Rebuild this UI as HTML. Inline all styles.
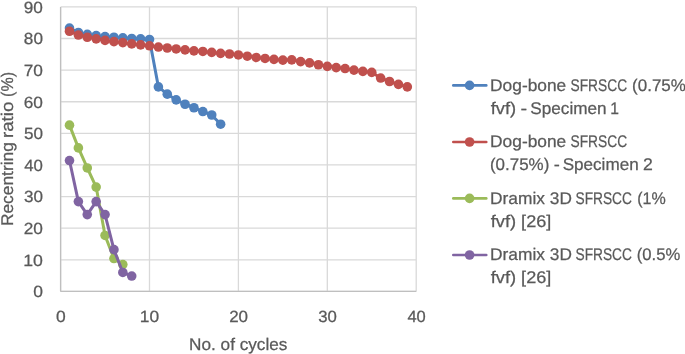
<!DOCTYPE html>
<html><head><meta charset="utf-8"><title>Chart</title>
<style>
html,body{margin:0;padding:0;background:#fff;}
body{width:685px;height:354px;overflow:hidden;}
svg{display:block;will-change:transform;}
text{font-family:"Liberation Sans",sans-serif;fill:#595959;text-rendering:geometricPrecision;stroke:#595959;stroke-width:0.25px;}
</style></head><body>
<svg width="685" height="354" viewBox="0 0 685 354">
<rect width="685" height="354" fill="#fff"/>
<g stroke="#D9D9D9" stroke-width="1.3" fill="none">
<line x1="60.60" y1="291.40" x2="416.20" y2="291.40"/>
<line x1="60.60" y1="259.79" x2="416.20" y2="259.79"/>
<line x1="60.60" y1="228.18" x2="416.20" y2="228.18"/>
<line x1="60.60" y1="196.57" x2="416.20" y2="196.57"/>
<line x1="60.60" y1="164.96" x2="416.20" y2="164.96"/>
<line x1="60.60" y1="133.34" x2="416.20" y2="133.34"/>
<line x1="60.60" y1="101.73" x2="416.20" y2="101.73"/>
<line x1="60.60" y1="70.12" x2="416.20" y2="70.12"/>
<line x1="60.60" y1="38.51" x2="416.20" y2="38.51"/>
<line x1="60.60" y1="6.90" x2="416.20" y2="6.90"/>
<line x1="60.60" y1="6.90" x2="60.60" y2="291.40"/>
<line x1="149.50" y1="6.90" x2="149.50" y2="291.40"/>
<line x1="238.40" y1="6.90" x2="238.40" y2="291.40"/>
<line x1="327.30" y1="6.90" x2="327.30" y2="291.40"/>
<line x1="416.20" y1="6.90" x2="416.20" y2="291.40"/>
</g>
<g stroke="#BFBFBF" stroke-width="1.3" fill="none">
<line x1="60.60" y1="6.90" x2="60.60" y2="291.40"/>
<line x1="60.60" y1="291.40" x2="416.20" y2="291.40"/>
</g>
<polyline points="69.49,28.08 78.38,32.50 87.27,34.40 96.16,35.67 105.05,36.61 113.94,37.25 122.83,37.88 131.72,38.51 140.61,38.83 149.50,39.46 158.39,86.88 167.28,94.15 176.17,99.84 185.06,104.26 193.95,107.74 202.84,111.53 211.73,115.01 220.62,124.18" fill="none" stroke="#4F81BD" stroke-width="3" stroke-linejoin="round" stroke-linecap="round"/>
<g fill="#4F81BD"><circle cx="69.49" cy="28.08" r="4.8"/><circle cx="78.38" cy="32.50" r="4.8"/><circle cx="87.27" cy="34.40" r="4.8"/><circle cx="96.16" cy="35.67" r="4.8"/><circle cx="105.05" cy="36.61" r="4.8"/><circle cx="113.94" cy="37.25" r="4.8"/><circle cx="122.83" cy="37.88" r="4.8"/><circle cx="131.72" cy="38.51" r="4.8"/><circle cx="140.61" cy="38.83" r="4.8"/><circle cx="149.50" cy="39.46" r="4.8"/><circle cx="158.39" cy="86.88" r="4.8"/><circle cx="167.28" cy="94.15" r="4.8"/><circle cx="176.17" cy="99.84" r="4.8"/><circle cx="185.06" cy="104.26" r="4.8"/><circle cx="193.95" cy="107.74" r="4.8"/><circle cx="202.84" cy="111.53" r="4.8"/><circle cx="211.73" cy="115.01" r="4.8"/><circle cx="220.62" cy="124.18" r="4.8"/></g>
<polyline points="69.49,31.24 78.38,35.03 87.27,37.25 96.16,38.83 105.05,40.41 113.94,41.67 122.83,42.62 131.72,43.88 140.61,44.83 149.50,45.78 158.39,47.05 167.28,47.99 176.17,48.94 185.06,49.89 193.95,50.84 202.84,51.47 211.73,52.42 220.62,53.37 229.51,54.00 238.40,54.95 247.29,56.21 256.18,57.48 265.07,58.43 273.96,59.37 282.85,60.16 291.74,59.85 300.63,61.59 309.52,62.85 318.41,64.75 327.30,66.33 336.19,67.59 345.08,68.54 353.97,70.12 362.86,71.39 371.75,72.33 380.64,78.02 389.53,81.50 398.42,84.35 407.31,86.88" fill="none" stroke="#C0504D" stroke-width="3" stroke-linejoin="round" stroke-linecap="round"/>
<g fill="#C0504D"><circle cx="69.49" cy="31.24" r="4.8"/><circle cx="78.38" cy="35.03" r="4.8"/><circle cx="87.27" cy="37.25" r="4.8"/><circle cx="96.16" cy="38.83" r="4.8"/><circle cx="105.05" cy="40.41" r="4.8"/><circle cx="113.94" cy="41.67" r="4.8"/><circle cx="122.83" cy="42.62" r="4.8"/><circle cx="131.72" cy="43.88" r="4.8"/><circle cx="140.61" cy="44.83" r="4.8"/><circle cx="149.50" cy="45.78" r="4.8"/><circle cx="158.39" cy="47.05" r="4.8"/><circle cx="167.28" cy="47.99" r="4.8"/><circle cx="176.17" cy="48.94" r="4.8"/><circle cx="185.06" cy="49.89" r="4.8"/><circle cx="193.95" cy="50.84" r="4.8"/><circle cx="202.84" cy="51.47" r="4.8"/><circle cx="211.73" cy="52.42" r="4.8"/><circle cx="220.62" cy="53.37" r="4.8"/><circle cx="229.51" cy="54.00" r="4.8"/><circle cx="238.40" cy="54.95" r="4.8"/><circle cx="247.29" cy="56.21" r="4.8"/><circle cx="256.18" cy="57.48" r="4.8"/><circle cx="265.07" cy="58.43" r="4.8"/><circle cx="273.96" cy="59.37" r="4.8"/><circle cx="282.85" cy="60.16" r="4.8"/><circle cx="291.74" cy="59.85" r="4.8"/><circle cx="300.63" cy="61.59" r="4.8"/><circle cx="309.52" cy="62.85" r="4.8"/><circle cx="318.41" cy="64.75" r="4.8"/><circle cx="327.30" cy="66.33" r="4.8"/><circle cx="336.19" cy="67.59" r="4.8"/><circle cx="345.08" cy="68.54" r="4.8"/><circle cx="353.97" cy="70.12" r="4.8"/><circle cx="362.86" cy="71.39" r="4.8"/><circle cx="371.75" cy="72.33" r="4.8"/><circle cx="380.64" cy="78.02" r="4.8"/><circle cx="389.53" cy="81.50" r="4.8"/><circle cx="398.42" cy="84.35" r="4.8"/><circle cx="407.31" cy="86.88" r="4.8"/></g>
<polyline points="69.49,125.13 78.38,147.89 87.27,167.96 96.16,187.08 105.05,235.45 113.94,258.52 122.83,264.53" fill="none" stroke="#9BBB59" stroke-width="3" stroke-linejoin="round" stroke-linecap="round"/>
<g fill="#9BBB59"><circle cx="69.49" cy="125.13" r="4.8"/><circle cx="78.38" cy="147.89" r="4.8"/><circle cx="87.27" cy="167.96" r="4.8"/><circle cx="96.16" cy="187.08" r="4.8"/><circle cx="105.05" cy="235.45" r="4.8"/><circle cx="113.94" cy="258.52" r="4.8"/><circle cx="122.83" cy="264.53" r="4.8"/></g>
<polyline points="69.49,160.53 78.38,201.62 87.27,214.58 96.16,201.62 105.05,214.58 113.94,249.67 122.83,272.43 131.72,276.07" fill="none" stroke="#8064A2" stroke-width="3" stroke-linejoin="round" stroke-linecap="round"/>
<g fill="#8064A2"><circle cx="69.49" cy="160.53" r="4.8"/><circle cx="78.38" cy="201.62" r="4.8"/><circle cx="87.27" cy="214.58" r="4.8"/><circle cx="96.16" cy="201.62" r="4.8"/><circle cx="105.05" cy="214.58" r="4.8"/><circle cx="113.94" cy="249.67" r="4.8"/><circle cx="122.83" cy="272.43" r="4.8"/><circle cx="131.72" cy="276.07" r="4.8"/></g>
<text x="33.24" y="297.30" font-size="16.2" textLength="9.71" lengthAdjust="spacingAndGlyphs">0</text>
<text x="23.28" y="265.69" font-size="16.2" textLength="19.69" lengthAdjust="spacingAndGlyphs">10</text>
<text x="23.76" y="234.08" font-size="16.2" textLength="19.19" lengthAdjust="spacingAndGlyphs">20</text>
<text x="23.98" y="202.47" font-size="16.2" textLength="18.97" lengthAdjust="spacingAndGlyphs">30</text>
<text x="24.24" y="170.86" font-size="16.2" textLength="18.69" lengthAdjust="spacingAndGlyphs">40</text>
<text x="23.94" y="139.24" font-size="16.2" textLength="19.00" lengthAdjust="spacingAndGlyphs">50</text>
<text x="23.75" y="107.63" font-size="16.2" textLength="19.20" lengthAdjust="spacingAndGlyphs">60</text>
<text x="23.74" y="76.02" font-size="16.2" textLength="19.21" lengthAdjust="spacingAndGlyphs">70</text>
<text x="23.88" y="44.41" font-size="16.2" textLength="19.06" lengthAdjust="spacingAndGlyphs">80</text>
<text x="23.82" y="12.80" font-size="16.2" textLength="19.13" lengthAdjust="spacingAndGlyphs">90</text>
<text x="56.04" y="321.80" font-size="16.2" textLength="9.71" lengthAdjust="spacingAndGlyphs">0</text>
<text x="139.80" y="321.80" font-size="16.2" textLength="19.36" lengthAdjust="spacingAndGlyphs">10</text>
<text x="229.17" y="321.80" font-size="16.2" textLength="18.87" lengthAdjust="spacingAndGlyphs">20</text>
<text x="318.29" y="321.80" font-size="16.2" textLength="18.64" lengthAdjust="spacingAndGlyphs">30</text>
<text x="407.45" y="321.80" font-size="16.2" textLength="18.37" lengthAdjust="spacingAndGlyphs">40</text>
<text x="189.12" y="350.10" font-size="16.9" textLength="98.28" lengthAdjust="spacingAndGlyphs">No. of cycles</text>
<text transform="translate(13.40,226.10) rotate(-90)" font-size="16.9" textLength="83.99" lengthAdjust="spacingAndGlyphs">Recentring</text>
<text transform="translate(13.40,138.02) rotate(-90)" font-size="16.9" textLength="36.38" lengthAdjust="spacingAndGlyphs">ratio</text>
<text transform="translate(13.40,96.97) rotate(-90)" font-size="16.9" textLength="25.05" lengthAdjust="spacingAndGlyphs">(%)</text>
<line x1="453.3" y1="85.40" x2="486.3" y2="85.40" stroke="#4F81BD" stroke-width="2.6" stroke-linecap="round"/><circle cx="469.6" cy="85.40" r="4.8" fill="#4F81BD"/>
<text x="490.10" y="91.00" font-size="16.9" textLength="76.14" lengthAdjust="spacingAndGlyphs">Dog-bone</text>
<text x="570.50" y="91.00" font-size="16.9" textLength="56.60" lengthAdjust="spacingAndGlyphs">SFRSCC</text>
<text x="632.07" y="91.00" font-size="16.9" textLength="53.81" lengthAdjust="spacingAndGlyphs">(0.75%</text>
<text x="490.67" y="113.80" font-size="16.9" textLength="25.45" lengthAdjust="spacingAndGlyphs">fvf)</text>
<text x="520.64" y="113.80" font-size="16.9" textLength="6.62" lengthAdjust="spacingAndGlyphs">-</text>
<text x="530.25" y="113.80" font-size="16.9" textLength="76.34" lengthAdjust="spacingAndGlyphs">Specimen</text>
<text x="610.33" y="113.80" font-size="16.9" textLength="8.71" lengthAdjust="spacingAndGlyphs">1</text>
<line x1="453.3" y1="142.00" x2="486.3" y2="142.00" stroke="#C0504D" stroke-width="2.6" stroke-linecap="round"/><circle cx="469.6" cy="142.00" r="4.8" fill="#C0504D"/>
<text x="490.10" y="147.40" font-size="16.9" textLength="76.14" lengthAdjust="spacingAndGlyphs">Dog-bone</text>
<text x="570.50" y="147.40" font-size="16.9" textLength="56.60" lengthAdjust="spacingAndGlyphs">SFRSCC</text>
<text x="489.97" y="170.30" font-size="16.9" textLength="59.35" lengthAdjust="spacingAndGlyphs">(0.75%)</text>
<text x="553.82" y="170.30" font-size="16.9" textLength="6.07" lengthAdjust="spacingAndGlyphs">-</text>
<text x="562.65" y="170.30" font-size="16.9" textLength="76.04" lengthAdjust="spacingAndGlyphs">Specimen</text>
<text x="643.04" y="170.30" font-size="16.9" textLength="9.83" lengthAdjust="spacingAndGlyphs">2</text>
<line x1="453.3" y1="198.40" x2="486.3" y2="198.40" stroke="#9BBB59" stroke-width="2.6" stroke-linecap="round"/><circle cx="469.6" cy="198.40" r="4.8" fill="#9BBB59"/>
<text x="490.00" y="203.80" font-size="16.9" textLength="54.96" lengthAdjust="spacingAndGlyphs">Dramix</text>
<text x="549.87" y="203.80" font-size="16.9" textLength="22.03" lengthAdjust="spacingAndGlyphs">3D</text>
<text x="575.50" y="203.80" font-size="16.9" textLength="56.40" lengthAdjust="spacingAndGlyphs">SFRSCC</text>
<text x="637.13" y="203.80" font-size="16.9" textLength="28.52" lengthAdjust="spacingAndGlyphs">(1%</text>
<text x="490.67" y="226.80" font-size="16.9" textLength="25.45" lengthAdjust="spacingAndGlyphs">fvf)</text>
<text x="521.13" y="226.80" font-size="16.9" textLength="30.23" lengthAdjust="spacingAndGlyphs">[26]</text>
<line x1="453.3" y1="255.00" x2="486.3" y2="255.00" stroke="#8064A2" stroke-width="2.6" stroke-linecap="round"/><circle cx="469.6" cy="255.00" r="4.8" fill="#8064A2"/>
<text x="490.00" y="260.40" font-size="16.9" textLength="54.96" lengthAdjust="spacingAndGlyphs">Dramix</text>
<text x="549.87" y="260.40" font-size="16.9" textLength="22.03" lengthAdjust="spacingAndGlyphs">3D</text>
<text x="575.50" y="260.40" font-size="16.9" textLength="56.40" lengthAdjust="spacingAndGlyphs">SFRSCC</text>
<text x="636.79" y="260.40" font-size="16.9" textLength="43.48" lengthAdjust="spacingAndGlyphs">(0.5%</text>
<text x="490.67" y="283.30" font-size="16.9" textLength="25.45" lengthAdjust="spacingAndGlyphs">fvf)</text>
<text x="521.13" y="283.30" font-size="16.9" textLength="30.23" lengthAdjust="spacingAndGlyphs">[26]</text>
</svg>
</body></html>
